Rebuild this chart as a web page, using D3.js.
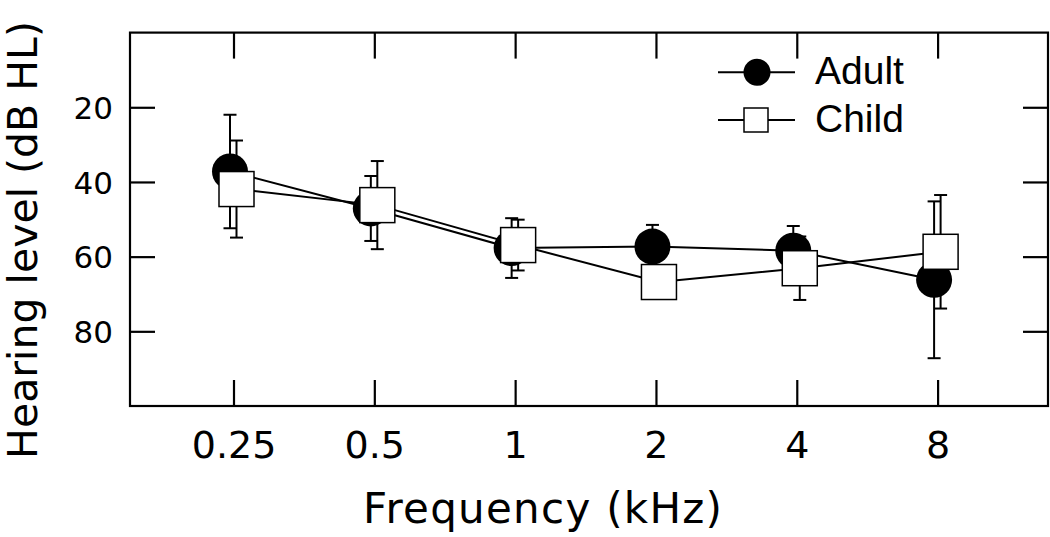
<!DOCTYPE html>
<html>
<head>
<meta charset="utf-8">
<script src="https://cdn.jsdelivr.net/npm/d3@7"></script>
<style>
  html, body { margin: 0; padding: 0; background: #fff; }
  svg { display: block; }
</style>
</head>
<body>
<svg id="chart" width="1050" height="537"></svg>
<script>
// ---- data ----
const categories = ["0.25", "0.5", "1", "2", "4", "8"];
const adultMean = [37.2, 47.1, 57.7, 57.3, 58.4, 66.2];
const adultErr  = [15.2, 8.7, 8.0, 5.8, 6.6, 21.0];
const childMean = [41.9, 46.2, 56.9, 66.8, 63.1, 58.7];
const childErr  = [13.0, 11.8, 6.8, 4.0, 8.5, 15.2];
const yTicks = [20, 40, 60, 80];
const seriesNames = ["Adult", "Child"];
const xTitle = "Frequency (kHz)";
const yTitle = "Hearing level (dB HL)";

// ---- layout ----
const frame = { left: 130, right: 1048, top: 32.6, bottom: 406 };
const svg = d3.select("#chart");
const font = "'DejaVu Sans', sans-serif";

const x = d3.scalePoint().domain(categories).range([233.5, 937.6]);
const y = d3.scaleLinear().domain([0, 100]).range([frame.top, frame.bottom]);

const adultOff = -3.5, childOff = 3;

// frame
svg.append("rect")
  .attr("x", frame.left).attr("y", frame.top)
  .attr("width", frame.right - frame.left).attr("height", frame.bottom - frame.top)
  .attr("fill", "none").attr("stroke", "#000").attr("stroke-width", 2.2);

function styleAxis(g) {
  g.select(".domain").remove();
  g.selectAll(".tick line").attr("stroke", "#000").attr("stroke-width", 2.2);
}

// left axis
svg.append("g")
  .attr("transform", `translate(${frame.left},0)`)
  .call(d3.axisLeft(y).tickValues(yTicks).tickSizeInner(-25).tickSizeOuter(0).tickPadding(17))
  .call(styleAxis)
  .call(g => g.selectAll("text")
    .attr("font-family", font).attr("font-size", 31).attr("fill", "#000")
    .attr("dy", "0.36em"));

// right axis (ticks only)
svg.append("g")
  .attr("transform", `translate(${frame.right},0)`)
  .call(d3.axisRight(y).tickValues(yTicks).tickSizeInner(-25).tickSizeOuter(0).tickFormat(""))
  .call(styleAxis);

// bottom axis
svg.append("g")
  .attr("transform", `translate(0,${frame.bottom})`)
  .call(d3.axisBottom(x).tickSizeInner(-26).tickSizeOuter(0).tickPadding(0))
  .call(styleAxis)
  .call(g => g.selectAll("text")
    .attr("font-family", font).attr("font-size", 38).attr("fill", "#000")
    .attr("y", 51.5).attr("dy", 0));

// top axis (ticks only)
svg.append("g")
  .attr("transform", `translate(0,${frame.top})`)
  .call(d3.axisTop(x).tickSizeInner(-26).tickSizeOuter(0).tickFormat(""))
  .call(styleAxis);

// axis titles
svg.append("text")
  .attr("x", 542.5).attr("y", 523)
  .attr("text-anchor", "middle")
  .attr("font-family", font).attr("font-size", 42).attr("fill", "#000")
  .attr("textLength", 359).attr("lengthAdjust", "spacing")
  .text(xTitle);

svg.append("text")
  .attr("transform", "translate(37,240) rotate(-90)")
  .attr("text-anchor", "middle")
  .attr("font-family", font).attr("font-size", 41).attr("fill", "#000")
  .text(yTitle);

// ---- series ----
const adult = categories.map((c, i) => ({ c, m: adultMean[i], e: adultErr[i] }));
const child = categories.map((c, i) => ({ c, m: childMean[i], e: childErr[i] }));

const capW = 6.5;
function errorBars(data, off) {
  const g = svg.append("g").attr("stroke", "#000").attr("stroke-width", 2).attr("fill", "none");
  data.forEach(d => {
    const cx = x(d.c) + off;
    const y1 = y(d.m - d.e), y2 = y(d.m + d.e);
    g.append("line").attr("x1", cx).attr("x2", cx).attr("y1", y1).attr("y2", y2);
    g.append("line").attr("x1", cx - capW).attr("x2", cx + capW).attr("y1", y1).attr("y2", y1);
    g.append("line").attr("x1", cx - capW).attr("x2", cx + capW).attr("y1", y2).attr("y2", y2);
  });
}
errorBars(adult, adultOff);
errorBars(child, childOff);

const lineA = d3.line().x(d => x(d.c) + adultOff).y(d => y(d.m));
const lineC = d3.line().x(d => x(d.c) + childOff).y(d => y(d.m));
svg.append("path").datum(adult).attr("d", lineA)
  .attr("fill", "none").attr("stroke", "#000").attr("stroke-width", 2);
svg.append("path").datum(child).attr("d", lineC)
  .attr("fill", "none").attr("stroke", "#000").attr("stroke-width", 2);

svg.append("g").selectAll("circle").data(adult).join("circle")
  .attr("cx", d => x(d.c) + adultOff).attr("cy", d => y(d.m)).attr("r", 18)
  .attr("fill", "#000");

const sq = 35;
svg.append("g").selectAll("rect").data(child).join("rect")
  .attr("x", d => x(d.c) + childOff - sq / 2).attr("y", d => y(d.m) - sq / 2)
  .attr("width", sq).attr("height", sq)
  .attr("fill", "#fff").attr("stroke", "#000").attr("stroke-width", 1.5);

// ---- legend ----
const leg = svg.append("g");
const legY = [72.3, 120];
seriesNames.forEach((name, i) => {
  leg.append("line").attr("x1", 718).attr("x2", 795).attr("y1", legY[i]).attr("y2", legY[i])
    .attr("stroke", "#000").attr("stroke-width", 2);
  if (i === 0) {
    leg.append("circle").attr("cx", 757).attr("cy", legY[i]).attr("r", 13.5).attr("fill", "#000");
  } else {
    leg.append("rect").attr("x", 756 - 12).attr("y", legY[i] - 12).attr("width", 24).attr("height", 24)
      .attr("fill", "#fff").attr("stroke", "#000").attr("stroke-width", 1.5);
  }
  leg.append("text").attr("x", 815).attr("y", legY[i] + 12)
    .attr("font-family", "'Liberation Sans', Arial, sans-serif").attr("font-size", 39).attr("fill", "#000")
    .text(name);
});
</script>
</body>
</html>
